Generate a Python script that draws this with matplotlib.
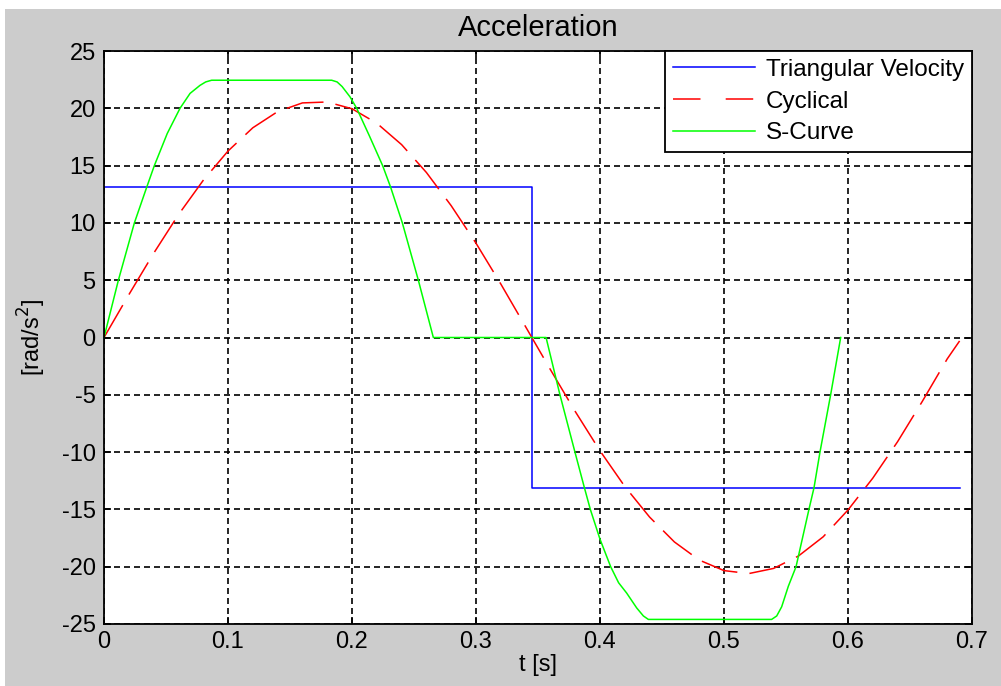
import matplotlib
matplotlib.use("Agg")
import matplotlib.pyplot as plt
from matplotlib.lines import Line2D
from matplotlib.patches import Rectangle

plt.rcParams['font.family'] = ['Liberation Sans', 'DejaVu Sans']
plt.rcParams['axes.unicode_minus'] = False

# ---- data ----
tri_t = [0.0, 0.345, 0.345, 0.69]
tri_a = [13.1, 13.1, -13.1, -13.1]

cyc_t = [0.00, 0.02, 0.04, 0.06, 0.08, 0.10, 0.12, 0.14, 0.16, 0.18, 0.20,
         0.22, 0.24, 0.26, 0.28, 0.30, 0.32, 0.34, 0.36, 0.38, 0.40, 0.42,
         0.44, 0.46, 0.48, 0.50, 0.52, 0.54, 0.56, 0.58, 0.60, 0.62, 0.64,
         0.66, 0.68, 0.69]
cyc_a = [0.0, 3.73, 7.34, 10.71, 13.71, 16.27, 18.30, 19.71, 20.47, 20.55, 19.96,
         18.70, 16.83, 14.40, 11.50, 8.23, 4.67, 0.94, -2.80, -6.45, -9.89, -13.00,
         -15.67, -17.84, -19.42, -20.34, -20.60, -20.15, -19.07, -17.39, -15.05, -12.27, -9.09,
         -5.56, -1.87, -0.3]

s_t = [0.0, 0.0116, 0.0245, 0.0344, 0.0406, 0.0510, 0.0613, 0.0694, 0.0774, 0.0820, 0.0868,
       0.1836, 0.1880, 0.1920, 0.1984, 0.2038, 0.2140, 0.2247, 0.2312, 0.2406, 0.2535, 0.2656,
       0.3565, 0.3677, 0.3798, 0.3874, 0.3922, 0.4000, 0.4086, 0.4150, 0.4215, 0.4296, 0.4350, 0.4390,
       0.5384, 0.5425, 0.5465, 0.5519, 0.5581, 0.5685, 0.5726, 0.5774, 0.5860, 0.5941]
s_a = [0.0, 5.0, 10.0, 13.1, 15.0, 17.8, 20.0, 21.3, 22.0, 22.3, 22.45,
       22.45, 22.3, 21.9, 21.0, 20.0, 17.6, 15.0, 13.1, 10.0, 5.0, 0.0,
       0.0, -5.0, -10.0, -13.1, -15.0, -17.6, -20.0, -21.4, -22.3, -23.6, -24.3, -24.6,
       -24.6, -24.3, -23.5, -21.7, -20.0, -15.0, -13.1, -10.0, -5.0, 0.0]

labels = ['Triangular Velocity', 'Cyclical', 'S-Curve']
x_ticks = [0, 0.1, 0.2, 0.3, 0.4, 0.5, 0.6, 0.7]
x_ticklabels = ['0', '0.1', '0.2', '0.3', '0.4', '0.5', '0.6', '0.7']
y_ticks = [-25, -20, -15, -10, -5, 0, 5, 10, 15, 20, 25]

# ---- figure ----
W, H = 1001, 686
fig = plt.figure(figsize=(W / 100, H / 100), dpi=100, facecolor='white')
fig.patches.append(Rectangle((5 / W, 0), 1, (H - 9) / H, transform=fig.transFigure,
                             facecolor='#cccccc', edgecolor='none', zorder=-10))

ax = fig.add_axes([104 / W, (H - 624) / H, (972 - 104) / W, (624 - 51) / H])
ax.set_facecolor('white')

ax.plot(tri_t, tri_a, color='#0000ff', lw=1.1)
red, = ax.plot(cyc_t, cyc_a, color='#ff0000', lw=1.1)
red.set_dashes([24.5, 8])
ax.plot(s_t, s_a, color='#00ff00', lw=1.1)

ax.set_xlim(0, 0.7)
ax.set_ylim(-25, 25)
ax.set_xticks(x_ticks)
ax.set_xticklabels(x_ticklabels)
ax.set_yticks(y_ticks)

ax.grid(True, color='black', lw=1.2, dashes=(3.6, 2.4))
ax.tick_params(direction='in', length=5, width=1.2, top=True, right=True,
               labelsize=17, colors='black')
ax.tick_params(axis='y', pad=6)
ax.tick_params(axis='x', pad=5)
for sp in ax.spines.values():
    sp.set_linewidth(1.3)
    sp.set_color('black')

ax.set_title('Acceleration', fontsize=21, pad=11)
ax.set_xlabel('t [s]', fontsize=17, labelpad=1)
ax.set_ylabel('[rad/s$^2$]', fontsize=17, labelpad=10)

h1 = Line2D([], [], color='#0000ff', lw=1.1)
h2 = Line2D([], [], color='#ff0000', lw=1.1, dashes=(18, 16.5))
h3 = Line2D([], [], color='#00ff00', lw=1.1)
leg = ax.legend([h1, h2, h3], labels, loc='upper right', bbox_to_anchor=(1, 1),
                borderaxespad=0, fontsize=17.5, fancybox=False, framealpha=1,
                edgecolor='black', handlelength=3.4, handletextpad=0.45,
                labelspacing=0.4, borderpad=0.32)
leg.get_frame().set_linewidth(1.3)

fig.savefig('out.png', dpi=100, facecolor=fig.get_facecolor())
